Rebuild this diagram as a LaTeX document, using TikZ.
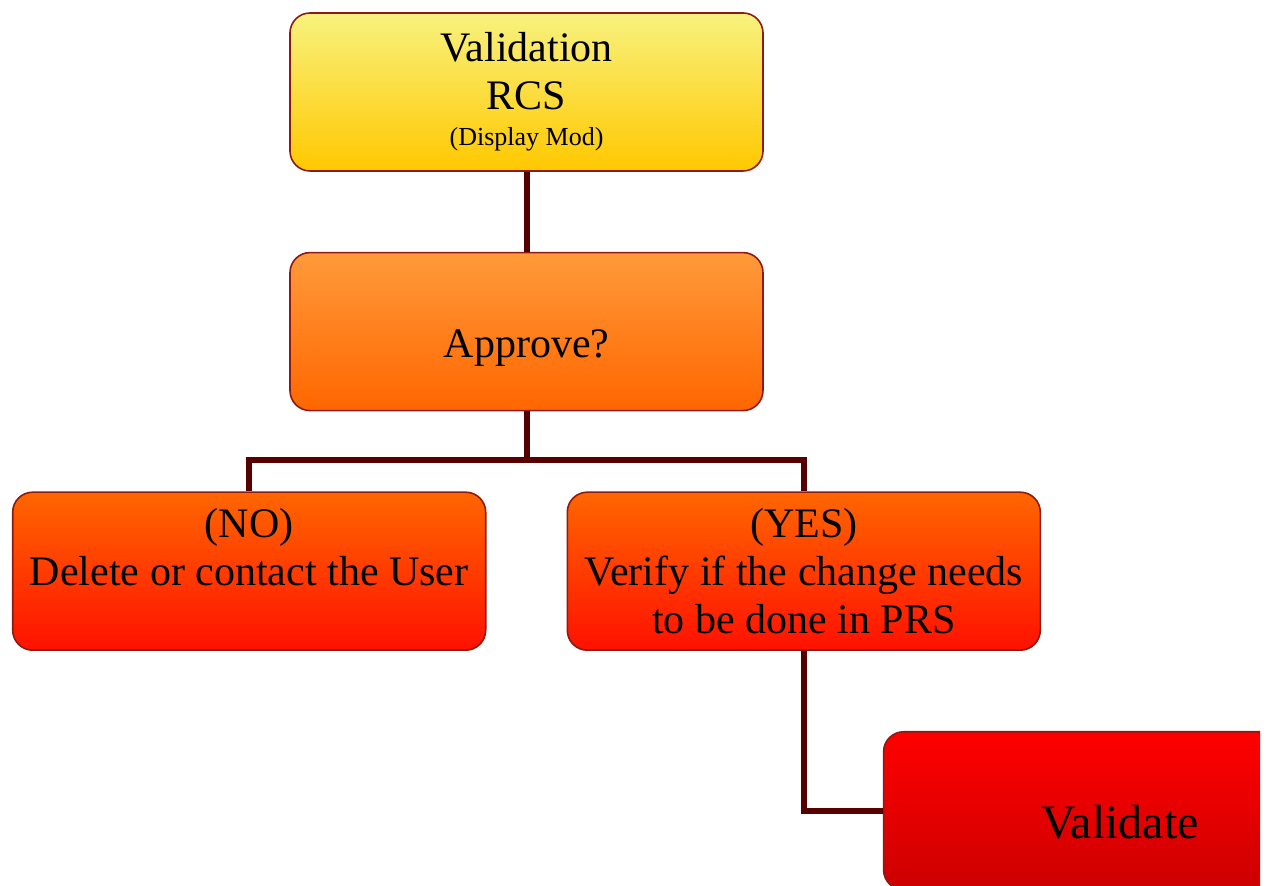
\documentclass[tikz,border=0pt]{standalone}
\usepackage{fontspec}
\setmainfont{Liberation Serif}
\usepackage{xcolor}
\usetikzlibrary{positioning}

\definecolor{edgered}{HTML}{8E1A14}
\definecolor{linkred}{HTML}{560000}

\tikzset{
  box/.style={draw=edgered, line width=0.8pt, rounded corners=10pt,
    minimum width=236.5pt, minimum height=79pt, inner sep=0pt,
    align=center, font=\fontsize{21}{24}\selectfont},
  yellowbox/.style={box, top color={rgb,255:red,248;green,242;blue,126}, bottom color={rgb,255:red,255;green,200;blue,0}},
  amberbox/.style={box, top color={rgb,255:red,255;green,154;blue,58}, bottom color={rgb,255:red,255;green,102;blue,0}},
  orangebox/.style={box, top color={rgb,255:red,255;green,102;blue,0}, bottom color={rgb,255:red,255;green,17;blue,0}},
  redbox/.style={box, top color={rgb,255:red,255;green,0;blue,0}, bottom color={rgb,255:red,204;green,0;blue,0}},
  link/.style={draw=linkred, line width=3pt}
}

\begin{document}
\begin{tikzpicture}[x=0.5pt, y=-0.5pt, node distance=40pt]
        \useasboundingbox (0,0) rectangle (1266,886);
        \clip (0,0) rectangle (1260,886);

        % Add the boxes
        \node[yellowbox] (val) at (526.5,92)
            {Validation\\RCS\\[-6pt]{\fontsize{13}{15}\selectfont(Display Mod)}};
        \node[amberbox, below=of val, text height=30pt] (appr) {Approve?};
        \node[orangebox, below left=40pt and 20pt of appr.south] (no)
            {(NO)\\Delete or contact the User\\~};
        \node[orangebox, below right=40pt and 20pt of appr.south] (yes)
            {(YES)\\Verify if the change needs\\to be done in PRS};
        \node[redbox, below right=40pt and 39.5pt of yes.south, text height=28.5pt,
            font=\fontsize{24}{28}\selectfont] (valid) {Validate};

        % Connect the boxes
        \draw[link] (val) -- (appr);
        \draw[link] (appr.south) -- ++(0,49) -| (no.north);
        \draw[link] (appr.south) -- ++(0,49) -| (yes.north);
        \draw[link] (yes.south) |- (valid.west);
    \end{tikzpicture}
\end{document}
